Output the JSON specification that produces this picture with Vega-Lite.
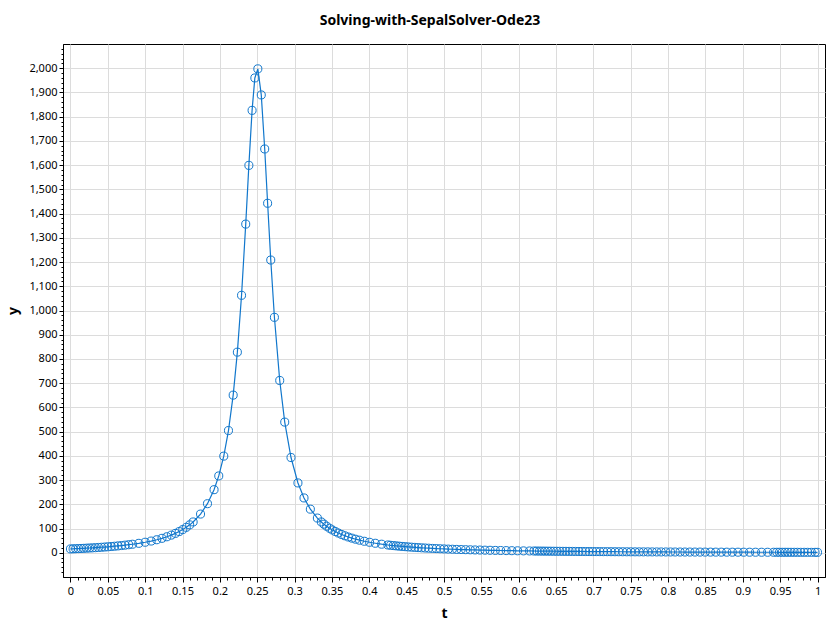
{
"$schema": "https://vega.github.io/schema/vega-lite/v6.json",
"width": 762,
"height": 533,
"autosize": {"type": "none"},
"padding": {"left": 63, "top": 44, "right": 15, "bottom": 53},
"background": "white",
"title": {"text": "Solving-with-SepalSolver-Ode23", "fontSize": 14, "fontWeight": "bold", "font": "Noto Sans", "color": "black", "anchor": "middle", "dx": -14, "offset": 15},
"config": {"view": {"stroke": "black", "strokeWidth": 1}},
"data": {"values": [
{"t":0,"y":15.87},{"t":0.0035,"y":16.32},{"t":0.007,"y":16.79},{"t":0.0106,"y":17.3},{"t":0.0142,"y":17.82},{"t":0.0179,"y":18.39},{"t":0.0217,"y":19.0},{"t":0.0255,"y":19.65},{"t":0.0294,"y":20.34},{"t":0.0334,"y":21.09},{"t":0.0375,"y":21.9},{"t":0.0416,"y":22.76},{"t":0.0458,"y":23.7},{"t":0.0501,"y":24.72},{"t":0.0545,"y":25.83},{"t":0.059,"y":27.04},{"t":0.0636,"y":28.37},{"t":0.0683,"y":29.84},{"t":0.0731,"y":31.45},{"t":0.078,"y":33.24},{"t":0.083,"y":35.22},
{"t":0.0915,"y":39.03},{"t":0.1,"y":43.48},{"t":0.108,"y":48.39},{"t":0.1155,"y":53.79},{"t":0.1225,"y":59.68},{"t":0.129,"y":66.05},{"t":0.135,"y":72.86},{"t":0.1405,"y":80.06},{"t":0.1455,"y":87.57},{"t":0.1503,"y":95.79},{"t":0.155,"y":104.99},{"t":0.1596,"y":115.31},{"t":0.1642,"y":127.2},
{"t":0.1741,"y":159.72},{"t":0.1834,"y":202.6},{"t":0.1922,"y":260.4},{"t":0.1985,"y":317.2},{"t":0.2052,"y":398.9},{"t":0.2115,"y":504.5},{"t":0.2178,"y":650.7},{"t":0.2234,"y":828.1},{"t":0.229,"y":1062.7},{"t":0.2346,"y":1356.6},{"t":0.2388,"y":1599},{"t":0.2431,"y":1826},{"t":0.2468,"y":1959.9},{"t":0.2508,"y":1997.4},{"t":0.2554,"y":1889.8},{"t":0.26,"y":1666.7},{"t":0.2639,"y":1442.6},{"t":0.2681,"y":1208.3},{"t":0.273,"y":971.8},{"t":0.2801,"y":711.2},{"t":0.2868,"y":539.3},{"t":0.2952,"y":393.2},{"t":0.3045,"y":288.2},{"t":0.3126,"y":226.3},{"t":0.3211,"y":180.0},{"t":0.3305,"y":143.3},
{"t":0.3358,"y":127.2},{"t":0.3393,"y":118.0},{"t":0.3429,"y":109.5},{"t":0.3469,"y":101.1},{"t":0.3505,"y":94.3},{"t":0.3545,"y":87.6},{"t":0.3585,"y":81.5},{"t":0.3629,"y":75.5},{"t":0.3673,"y":70.1},{"t":0.3719,"y":65.1},{"t":0.3767,"y":60.4},{"t":0.3817,"y":56.0},{"t":0.387,"y":51.9},{"t":0.3933,"y":47.5},{"t":0.4004,"y":43.3},{"t":0.408,"y":39.3},{"t":0.4165,"y":35.4},
{"t":0.4249,"y":32.2},{"t":0.4285,"y":30.9},{"t":0.4322,"y":29.7},{"t":0.436,"y":28.5},{"t":0.4399,"y":27.35},{"t":0.4439,"y":26.25},{"t":0.448,"y":25.19},{"t":0.4522,"y":24.16},{"t":0.4565,"y":23.18},{"t":0.4609,"y":22.23},{"t":0.4654,"y":21.32},{"t":0.47,"y":20.45},{"t":0.4747,"y":19.61},{"t":0.4795,"y":18.81},{"t":0.4845,"y":18.02},{"t":0.4896,"y":17.27},{"t":0.4948,"y":16.55},{"t":0.5001,"y":15.86},{"t":0.5056,"y":15.19},{"t":0.5112,"y":14.55},{"t":0.517,"y":13.93},{"t":0.5229,"y":13.34},{"t":0.529,"y":12.76},{"t":0.5352,"y":12.22},{"t":0.5416,"y":11.69},{"t":0.5481,"y":11.19},{"t":0.5548,"y":10.71},{"t":0.5616,"y":10.25},{"t":0.5686,"y":9.8},{"t":0.5758,"y":9.38},{"t":0.5832,"y":8.97},{"t":0.5908,"y":8.57},{"t":0.5985,"y":8.2},{"t":0.6064,"y":7.84},{"t":0.6145,"y":7.5},
{"t":0.6205,"y":7.26},{"t":0.6241,"y":7.12},{"t":0.6278,"y":6.98},{"t":0.6315,"y":6.85},{"t":0.6352,"y":6.72},{"t":0.6391,"y":6.58},{"t":0.6429,"y":6.46},{"t":0.6469,"y":6.33},{"t":0.6509,"y":6.2},{"t":0.6549,"y":6.08},{"t":0.6591,"y":5.96},{"t":0.6632,"y":5.84},{"t":0.6675,"y":5.72},{"t":0.6718,"y":5.6},{"t":0.6761,"y":5.49},{"t":0.6806,"y":5.38},{"t":0.6851,"y":5.27},{"t":0.6896,"y":5.16},{"t":0.6943,"y":5.05},{"t":0.699,"y":4.95},{"t":0.7038,"y":4.84},{"t":0.7086,"y":4.74},{"t":0.7135,"y":4.64},{"t":0.7185,"y":4.55},{"t":0.7236,"y":4.45},{"t":0.7288,"y":4.35},{"t":0.734,"y":4.26},{"t":0.7393,"y":4.17},{"t":0.7447,"y":4.08},{"t":0.7501,"y":3.99},{"t":0.7557,"y":3.9},{"t":0.7613,"y":3.82},{"t":0.767,"y":3.73},{"t":0.7728,"y":3.65},{"t":0.7787,"y":3.57},{"t":0.7847,"y":3.49},{"t":0.7908,"y":3.41},{"t":0.7969,"y":3.34},{"t":0.8032,"y":3.26},{"t":0.8095,"y":3.19},{"t":0.816,"y":3.12},{"t":0.8225,"y":3.05},{"t":0.8291,"y":2.98},{"t":0.8359,"y":2.91},{"t":0.8427,"y":2.84},{"t":0.8496,"y":2.78},{"t":0.8567,"y":2.71},{"t":0.8638,"y":2.65},{"t":0.8711,"y":2.59},{"t":0.8785,"y":2.53},{"t":0.8859,"y":2.47},{"t":0.8935,"y":2.41},{"t":0.9012,"y":2.36},{"t":0.9091,"y":2.3},{"t":0.917,"y":2.25},{"t":0.9251,"y":2.19},{"t":0.9332,"y":2.14},{"t":0.9412,"y":2.09},
{"t":0.9455,"y":2.07},{"t":0.9491,"y":2.04},{"t":0.9528,"y":2.02},{"t":0.9566,"y":2.0},{"t":0.9605,"y":1.98},{"t":0.9646,"y":1.96},{"t":0.9688,"y":1.93},{"t":0.9731,"y":1.91},{"t":0.9775,"y":1.89},{"t":0.9821,"y":1.86},{"t":0.9868,"y":1.84},{"t":0.9917,"y":1.82},{"t":0.9967,"y":1.79},{"t":1.0,"y":1.78}
]},
"encoding": {
"x": {"field": "t", "type": "quantitative", "scale": {"domain": [-0.01, 1.01], "nice": false, "zero": false},
 "axis": {"title": "t", "titleFont": "Noto Sans", "titleFontSize": 14, "titleFontWeight": "bold", "titleColor": "black", "titlePadding": 10,
  "values": [0,0.01,0.02,0.03,0.04,0.05,0.06,0.07,0.08,0.09,0.1,0.11,0.12,0.13,0.14,0.15,0.16,0.17,0.18,0.19,0.2,0.21,0.22,0.23,0.24,0.25,0.26,0.27,0.28,0.29,0.3,0.31,0.32,0.33,0.34,0.35,0.36,0.37,0.38,0.39,0.4,0.41,0.42,0.43,0.44,0.45,0.46,0.47,0.48,0.49,0.5,0.51,0.52,0.53,0.54,0.55,0.56,0.57,0.58,0.59,0.6,0.61,0.62,0.63,0.64,0.65,0.66,0.67,0.68,0.69,0.7,0.71,0.72,0.73,0.74,0.75,0.76,0.77,0.78,0.79,0.8,0.81,0.82,0.83,0.84,0.85,0.86,0.87,0.88,0.89,0.9,0.91,0.92,0.93,0.94,0.95,0.96,0.97,0.98,0.99,1],
  "labelExpr": "abs(datum.value*20 - round(datum.value*20)) < 0.001 ? format(datum.value, '~g') : ''",
  "labelFont": "Noto Sans", "labelFontSize": 11, "labelColor": "black", "labelPadding": 3, "labelOverlap": false, "labelFlush": false,
  "tickSize": {"condition": {"test": "abs(datum.value*20 - round(datum.value*20)) < 0.001", "value": 5}, "value": 3},
  "tickColor": "black", "domainColor": "black", "grid": true, "gridColor": "#dcdcdc",
  "gridOpacity": {"condition": {"test": "abs(datum.value*20 - round(datum.value*20)) < 0.001", "value": 1}, "value": 0}}},
"y": {"field": "y", "type": "quantitative", "scale": {"domain": [-100, 2100], "nice": false, "zero": false},
 "axis": {"title": "y", "titleFont": "Noto Sans", "titleFontSize": 14, "titleFontWeight": "bold", "titleColor": "black", "titlePadding": 8,
  "values": [-80,-60,-40,-20,0,20,40,60,80,100,120,140,160,180,200,220,240,260,280,300,320,340,360,380,400,420,440,460,480,500,520,540,560,580,600,620,640,660,680,700,720,740,760,780,800,820,840,860,880,900,920,940,960,980,1000,1020,1040,1060,1080,1100,1120,1140,1160,1180,1200,1220,1240,1260,1280,1300,1320,1340,1360,1380,1400,1420,1440,1460,1480,1500,1520,1540,1560,1580,1600,1620,1640,1660,1680,1700,1720,1740,1760,1780,1800,1820,1840,1860,1880,1900,1920,1940,1960,1980,2000,2020,2040,2060,2080],
  "labelExpr": "datum.value >= 0 && datum.value % 100 == 0 ? format(datum.value, ',') : ''",
  "labelFont": "Noto Sans", "labelFontSize": 11, "labelColor": "black", "labelPadding": 2, "labelOverlap": false, "labelFlush": false,
  "tickSize": {"condition": {"test": "datum.value % 100 == 0", "value": 4}, "value": 2},
  "tickColor": "black", "domainColor": "black", "grid": true, "gridColor": "#dcdcdc",
  "gridOpacity": {"condition": {"test": "datum.value % 100 == 0", "value": 1}, "value": 0}}}
},
"layer": [
 {"mark": {"type": "line", "color": "#1177cc", "strokeWidth": 1.2}},
 {"mark": {"type": "point", "filled": false, "color": "#1177cc", "size": 65, "strokeWidth": 1, "opacity": 1}}
]
}
